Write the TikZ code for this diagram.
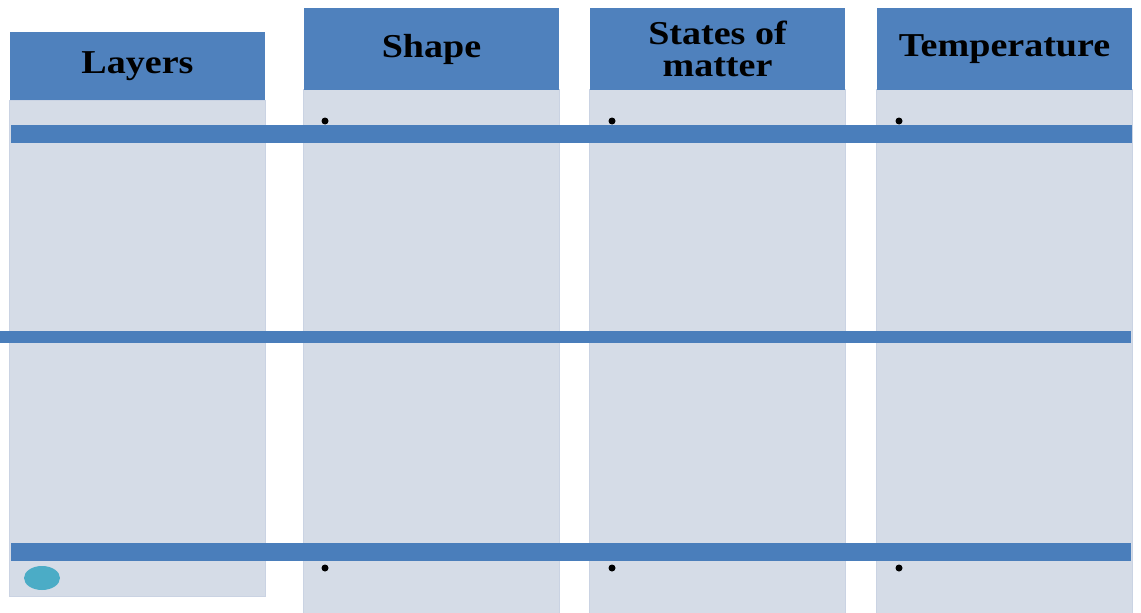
\documentclass[tikz,border=0pt]{standalone}
\usepackage{fontspec}
\setmainfont{Liberation Serif}
\newfontfamily\hdrfont{Liberation Serif}[FakeStretch=1.14]
\usepackage{tikz}
\usetikzlibrary{positioning,shapes}

\definecolor{hblue}{HTML}{4F81BD}
\definecolor{barblue}{HTML}{4A7EBB}
\definecolor{bodygray}{HTML}{D5DCE7}
\definecolor{bodyedge}{HTML}{CAD3E3}
\definecolor{dotcyan}{HTML}{4BACC6}

\begin{document}
\begin{tikzpicture}[x=0.02cm,y=-0.02cm,
		hdr/.style={rectangle, fill=hblue, inner sep=0pt, minimum width=5.12cm, align=center,
			font=\hdrfont\bfseries\fontsize{19}{18.2}\selectfont},
		body/.style={rectangle, fill=bodygray, draw=bodyedge, line width=0.6pt, inner sep=0pt, minimum width=5.12cm},
		bar/.style={fill=barblue},
		dot/.style={circle, fill=black, inner sep=0pt, minimum size=0.14cm}]
		\useasboundingbox (0,0) rectangle (1141,612);
		
		% columns
		\node[body, minimum height=9.94cm] (LB) at (137.5,348.5) {};
		\node[body, minimum height=10.5cm] (SB) at (431.5,352) {};
		\node[body, minimum height=10.5cm] (MB) at (717.5,352) {};
		\node[body, minimum height=10.5cm] (TB) at (1004.5,352) {};
		
		\node[hdr, minimum height=1.36cm] (L) at (137.5,66) {Layers};
		\node[hdr, minimum height=1.64cm] (S) at (431.5,49) {Shape};
		\node[hdr, minimum height=1.64cm] (M) at (717.5,49) {States of\\matter};
		\node[hdr, minimum height=1.64cm] (T) at (1004.5,49) {Temperature};
		
		% bars
		\fill[bar] (11,125) rectangle (1132,143);
		\fill[bar] (0,331) rectangle (1131,343);
		\fill[bar] (11,543) rectangle (1131,561);
		
		\node[dot] (s1) at (325,121) {};
		\node[dot] (m1) at (612,121) {};
		\node[dot] (t1) at (899,121) {};
		\node[dot] (s2) at (325,568) {};
		\node[dot] (m2) at (612,568) {};
		\node[dot] (t2) at (899,568) {};
		
		\node[ellipse, fill=dotcyan, inner sep=0pt, minimum width=0.72cm, minimum height=0.48cm] (e) at (42,578) {};
		
	\end{tikzpicture}
\end{document}
